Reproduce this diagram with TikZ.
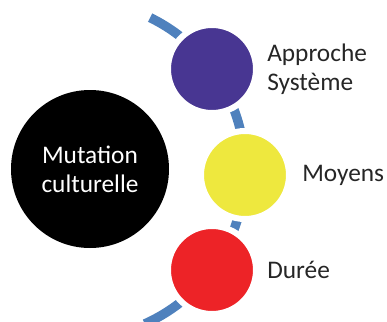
\documentclass[tikz,border=0pt]{standalone}
\usepackage{fontspec}
\setmainfont{Carlito}
\usetikzlibrary{positioning}
\definecolor{ringblue}{RGB}{79, 129, 189}
\definecolor{softpurple}{RGB}{72, 54, 146}
\definecolor{softyellow}{RGB}{238, 232, 62}
\definecolor{softred}{RGB}{237, 35, 39}

\begin{document}
\begin{tikzpicture}[
	        x=0.75pt, y=0.75pt,
	        font=\fontsize{19}{21.5}\selectfont,
	        hubcircle/.style={
	            circle,
	            minimum size=118.5pt,
	            inner sep=0pt,
	            align=center,
	            fill=black,
	            text=white,
	        },
	        stage/.style={
	            circle,
	            minimum size=66pt,
	            inner sep=0pt,
	            draw=white,
	            line width=4.5pt,
	        },
	        ringline/.style={
	            line width=7pt,
	            draw=ringblue
	        },
	        labeltext/.style={
	            text=black!85,
	            align=left,
	            inner sep=1.5pt
	        }
	    ]
	        \useasboundingbox (0,0) rectangle (387,-322);
	        \clip (0,0) rectangle (387,-322);

	        % arc behind the three small circles
	        \coordinate (ringcenter) at (76,-169.5);
	        \draw[ringline] (ringcenter) ++(64:169) arc[start angle=64, end angle=-66, radius=169];

	        \node[hubcircle] (mutation) at (90,-169) {Mutation\\culturelle};
	        \node[stage, fill=softpurple] (approche) at (212,-69) {};
	        \node[stage, fill=softyellow] (moyens) at (245,-175) {};
	        \node[stage, fill=softred] (duree) at (212,-270) {};

	        \node[labeltext, right=4.5pt of approche] {Approche\\Système};
	        \node[labeltext, right=6pt of moyens] {Moyens};
	        \node[labeltext, right=4.5pt of duree] {Durée};
	    \end{tikzpicture}
\end{document}
